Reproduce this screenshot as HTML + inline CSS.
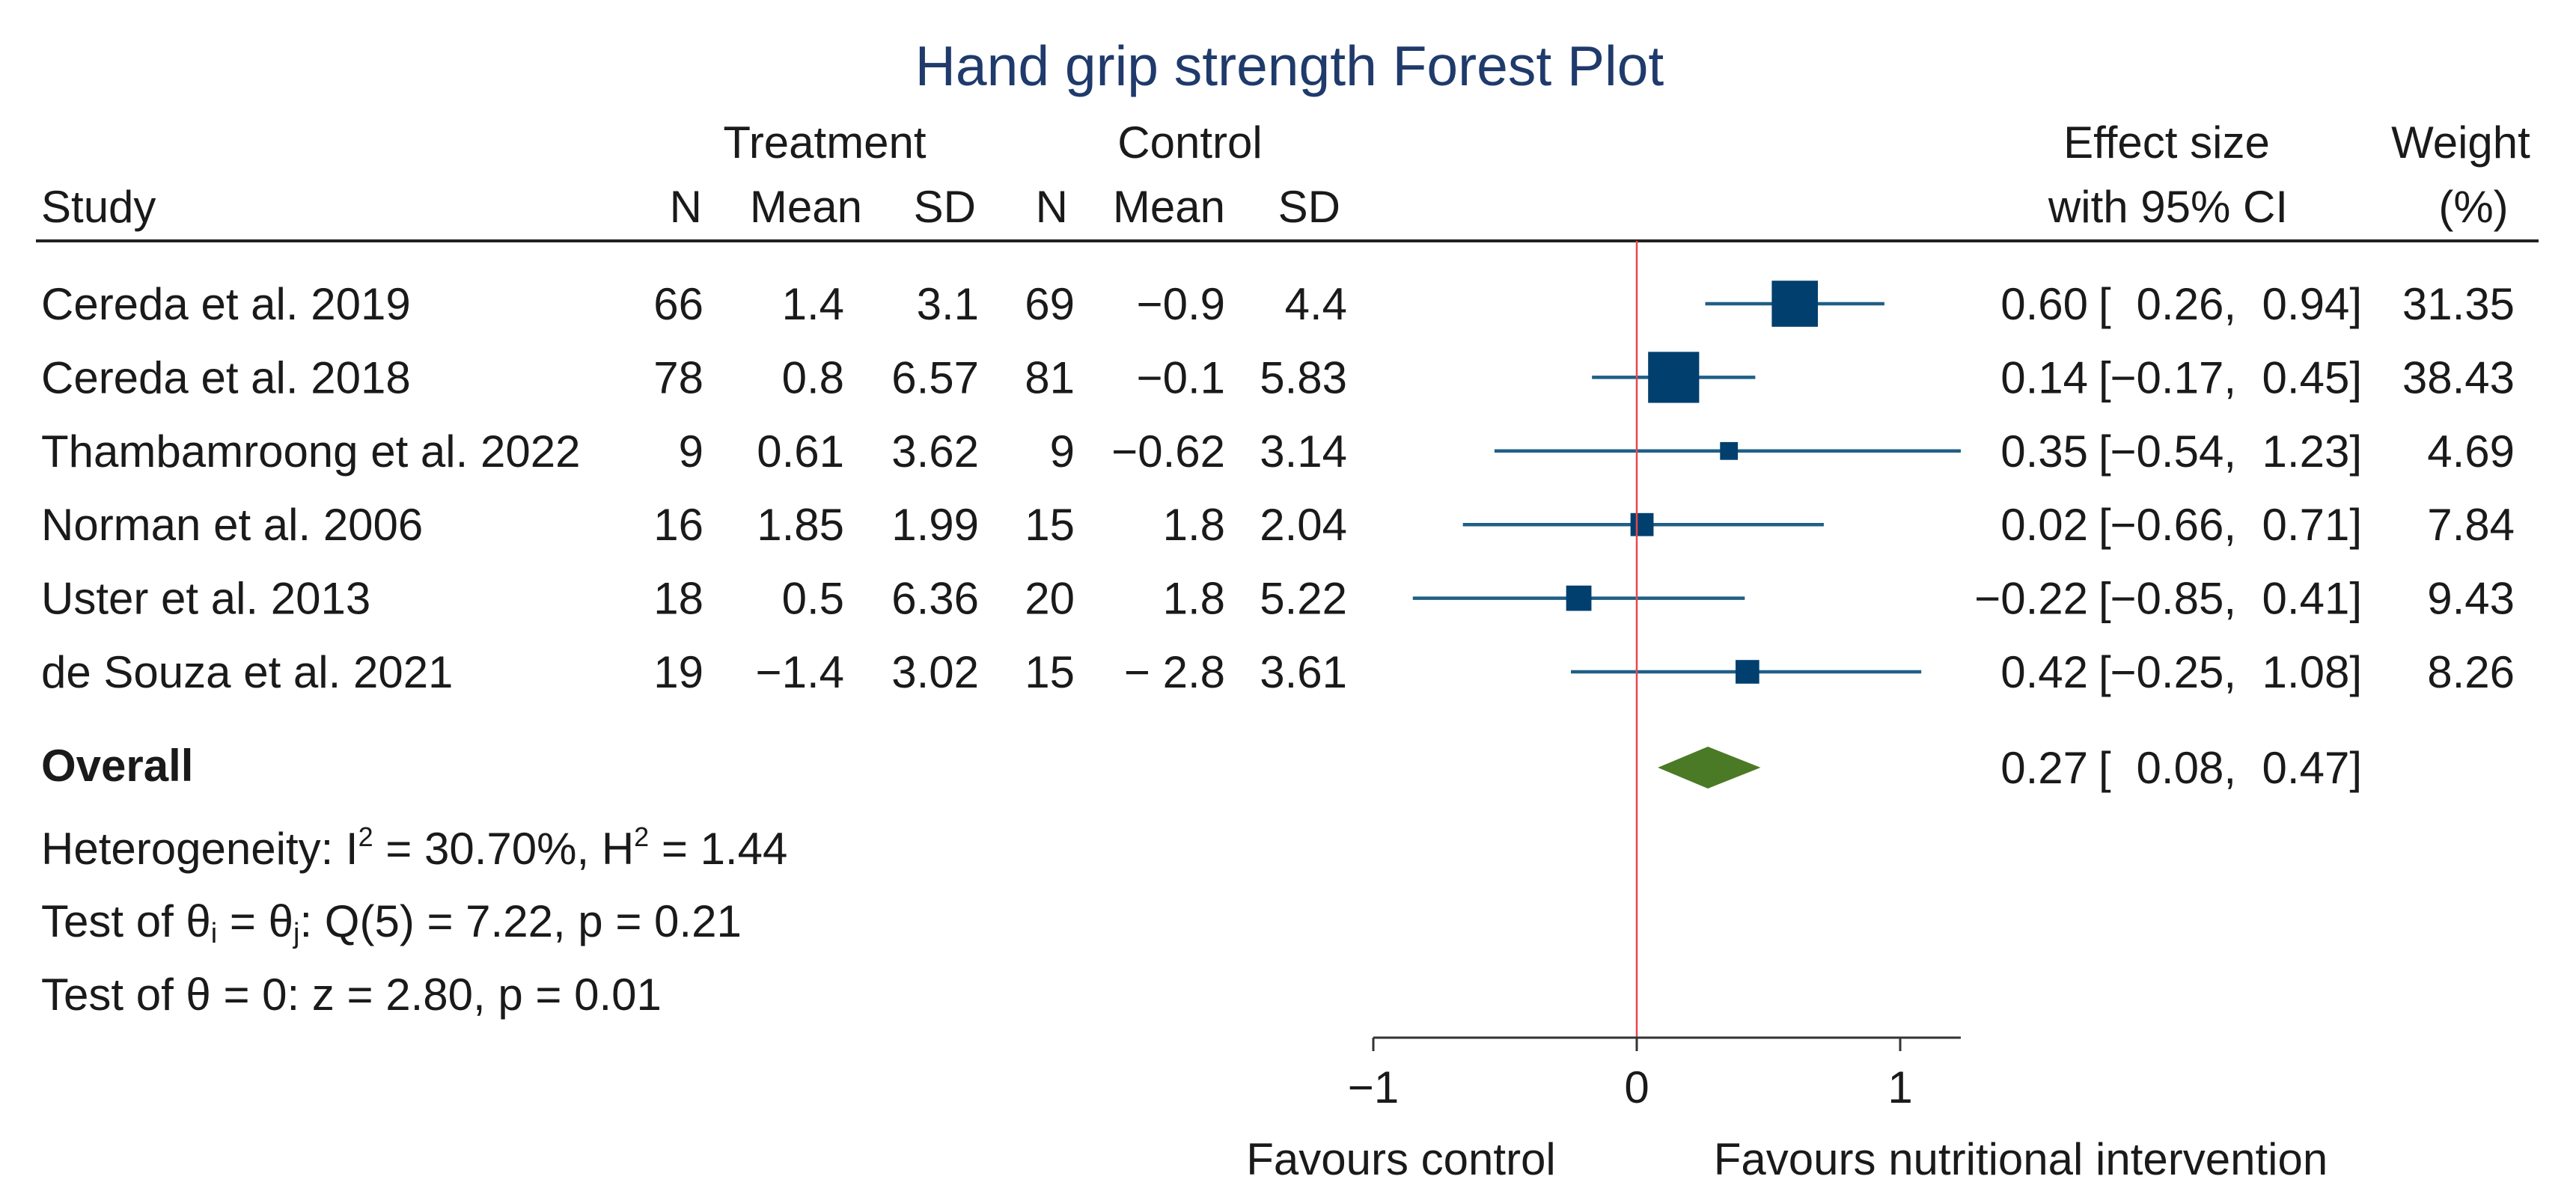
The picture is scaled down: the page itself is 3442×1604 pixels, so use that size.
<!DOCTYPE html>
<html><head><meta charset="utf-8"><style>
html,body{margin:0;padding:0;background:#fff}
svg{display:block}
text{font-family:"Liberation Sans",sans-serif;fill:#1a1a1a}
</style></head><body>
<svg id="plot" width="3442" height="1604" viewBox="0 0 3442 1604" xmlns="http://www.w3.org/2000/svg">
<rect width="3442" height="1604" fill="#fff"/>
<text x="1723" y="114" font-size="75" text-anchor="middle" style="fill:#1f3a6b">Hand grip strength Forest Plot</text>
<g font-size="60">
<text x="1102" y="211" text-anchor="middle">Treatment</text>
<text x="1590" y="211" text-anchor="middle">Control</text>
<text x="2895" y="211" text-anchor="middle">Effect size</text>
<text x="3288" y="211" text-anchor="middle">Weight</text>
<text x="55" y="297">Study</text>
<text x="938" y="297" text-anchor="end">N</text>
<text x="1152" y="297" text-anchor="end">Mean</text>
<text x="1304" y="297" text-anchor="end">SD</text>
<text x="1427" y="297" text-anchor="end">N</text>
<text x="1637" y="297" text-anchor="end">Mean</text>
<text x="1791" y="297" text-anchor="end">SD</text>
<text x="2897" y="297" text-anchor="middle">with 95% CI</text>
<text x="3305" y="297" text-anchor="middle">(%)</text>
</g>
<line x1="48" y1="322" x2="3392" y2="322" stroke="#222" stroke-width="4"/>
<g id="rows"></g>
<g id="marks"></g>
<g font-size="60">
<text x="55" y="1044" font-weight="bold">Overall</text>
<text x="55" y="1155">Heterogeneity: I<tspan dy="-24" font-size="36">2</tspan><tspan dy="24"> = 30.70%, H</tspan><tspan dy="-24" font-size="36">2</tspan><tspan dy="24"> = 1.44</tspan></text>
<text x="55" y="1252">Test of θ<tspan dy="8" font-size="38">i</tspan><tspan dy="-8"> = θ</tspan><tspan dy="8" font-size="38">j</tspan><tspan dy="-8">: Q(5) = 7.22, p = 0.21</tspan></text>
<text x="55" y="1350">Test of θ = 0: z = 2.80, p = 0.01</text>
</g>
<text x="1872" y="1570" font-size="60" text-anchor="middle">Favours control</text>
<text x="2700" y="1570" font-size="60" text-anchor="middle">Favours nutritional intervention</text>
</svg>
<script>
const studies=["Cereda et al. 2019","Cereda et al. 2018","Thambamroong et al. 2022","Norman et al. 2006","Uster et al. 2013","de Souza et al. 2021"];
const nT=["66","78","9","16","18","19"];
const meanT=["1.4","0.8","0.61","1.85","0.5","\u22121.4"];
const sdT=["3.1","6.57","3.62","1.99","6.36","3.02"];
const nC=["69","81","9","15","20","15"];
const meanC=["\u22120.9","\u22120.1","\u22120.62","1.8","1.8","\u2212 2.8"];
const sdC=["4.4","5.83","3.14","2.04","5.22","3.61"];
const est=[0.60,0.14,0.35,0.02,-0.22,0.42];
const lo=[0.26,-0.17,-0.54,-0.66,-0.85,-0.25];
const hi=[0.94,0.45,1.23,0.71,0.41,1.08];
const weights=[31.35,38.43,4.69,7.84,9.43,8.26];
const overall=[0.27,0.08,0.47];
const ticks=[-1,0,1];
const axisMin=-1, axisMax=1.23;

const NS="http://www.w3.org/2000/svg";
const X0=2187, UNIT=352;
function xs(v){return X0+v*UNIT;}
const ROW0=406, ROWH=98.4;
function ys(i){return ROW0+i*ROWH;}
function fmt(v){return (v<0?"\u2212":"")+Math.abs(v).toFixed(2);}
function mk(tag,attrs,parent){const e=document.createElementNS(NS,tag);for(const k in attrs)e.setAttribute(k,attrs[k]);parent.appendChild(e);return e;}
function txt(s,x,y,anchor,parent){const t=mk("text",{x:x,y:y,"font-size":60,"text-anchor":anchor},parent);t.textContent=s;return t;}

const rows=document.getElementById("rows");
const marks=document.getElementById("marks");
function effectText(e,l,h,y,prefix){
  let t=txt(fmt(e),2790,y,"end",rows);
  
  
  t=txt("[",2804,y,"start",rows);
  
  
  t=txt(fmt(l)+",",2988,y,"end",rows);
  
  
  t=txt(fmt(h)+"]",3156,y,"end",rows);
  
  
}
studies.forEach((s,i)=>{
  const y=ys(i)+21;
  let t;
  t=txt(s,55,y,"start",rows);
  
  
  const cols=[[nT,940],[meanT,1128],[sdT,1308],[nC,1436],[meanC,1637],[sdC,1800]];
  cols.forEach(c=>{t=txt(c[0][i],c[1],y,"end",rows);
    
    });
  effectText(est[i],lo[i],hi[i],y,'effect-');
  t=txt(weights[i].toFixed(2),3360,y,"end",rows);
  
  
  const l=mk("line",{x1:xs(lo[i]),x2:xs(hi[i]),y1:ys(i),y2:ys(i),stroke:"#1f5f86","stroke-width":4.5},marks);
  
  
  const side=11*Math.sqrt(weights[i]);
  const r=mk("rect",{x:xs(est[i])-side/2,y:ys(i)-side/2,width:side,height:side,fill:"#003f6e"},marks);
  
  
});
const oy=1026;
let d=mk("polygon",{points:`${xs(overall[1])},${oy} ${xs(overall[0])},${oy-28} ${xs(overall[2])},${oy} ${xs(overall[0])},${oy+28}`,fill:"#4b7a26"},marks);


effectText(overall[0],overall[1],overall[2],oy+21,'overall-');
let nl=mk("line",{x1:xs(0),x2:xs(0),y1:322,y2:1387,stroke:"#e8474a","stroke-width":2.5},marks);


let ax=mk("line",{x1:xs(axisMin),x2:xs(axisMax),y1:1387,y2:1387,stroke:"#333","stroke-width":3},marks);


ticks.forEach(v=>{
  const tk=mk("line",{x1:xs(v),x2:xs(v),y1:1387,y2:1405,stroke:"#333","stroke-width":3},marks);
  
  
  const tl=txt(v<0?"\u2212"+Math.abs(v):String(v),xs(v),1474,"middle",marks);
  
  
});
</script>
</body></html>
